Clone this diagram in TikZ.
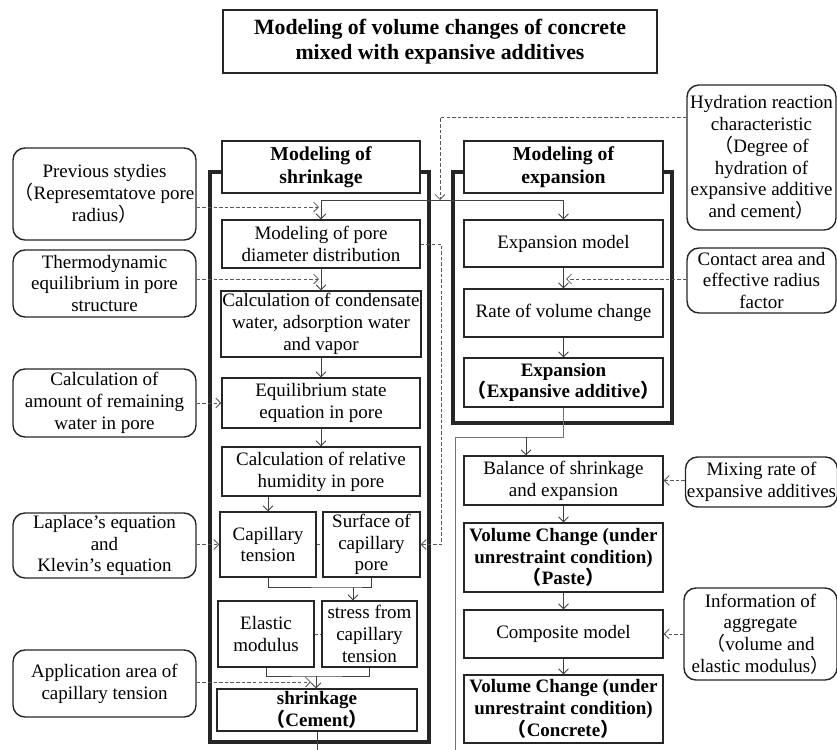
\documentclass[tikz,border=0pt]{standalone}
\usepackage{fontspec}
\setmainfont{Liberation Serif}
\newfontfamily\cjk{Noto Sans CJK JP}
\usepackage{tikz}
\usetikzlibrary{arrows.meta}
\newcommand{\bodyfont}{\fontsize{13.5}{15.5}\selectfont}
\newcommand{\lp}{{\cjk （}}
\newcommand{\rp}{{\cjk ）}}

\begin{document}
\begin{tikzpicture}[x=0.025cm, y=-0.025cm]
    \tikzstyle{proc} = [rectangle, draw=black!85, line width=1pt, minimum width=4.95cm, align=center, inner xsep=1pt, inner ysep=1pt, font=\bodyfont]
    \tikzstyle{bproc} = [proc, font=\bodyfont\bfseries]
    \tikzstyle{headbox} = [proc, fill=white, minimum height=1.3cm, font=\fontsize{14}{16}\selectfont\bfseries]
    \tikzstyle{boxframe} = [rectangle, draw=black!85, line width=2.3pt, minimum width=5.475cm]
    \tikzstyle{src} = [rectangle, rounded corners=0.3cm, draw=black!85, line width=1pt, align=center, inner xsep=1pt, inner ysep=1pt, font=\bodyfont]
    \tikzstyle{conn} = [draw=black!75, line width=0.6pt, -{Straight Barb[length=3.5pt, width=7pt]}]
    \tikzstyle{link} = [draw=black!75, line width=0.6pt]
    \tikzstyle{dashline} = [draw=black!65, line width=0.6pt, dash pattern=on 2.5pt off 1.5pt, -{Straight Barb[length=3.5pt, width=7pt]}]

    \useasboundingbox (0,0) rectangle (837,750);

    \node (title) [proc, minimum width=10.85cm, minimum height=1.575cm, font=\fontsize{15.5}{18}\selectfont\bfseries] at (440,41.5) {Modeling of volume changes of concrete\\mixed with expansive additives};

    % frames and headings
    \node (shrFrame) [boxframe, minimum height=14.25cm] at (319.5,457) {};
    \node (expFrame) [boxframe, minimum height=6.275cm] at (562.5,297.5) {};
    \node (shrHead) [headbox] at (321,167) {Modeling of\\shrinkage};
    \node (expHead) [headbox, minimum width=4.975cm] at (563.5,167) {Modeling of\\expansion};

    % shrinkage side
    \node (pore) [proc, minimum height=1.2cm] at (321,244) {Modeling of pore\\diameter distribution};
    \node (cond) [proc, minimum height=1.65cm] at (321,324) {Calculation of condensate\\water, adsorption water\\and vapor};
    \node (equil) [proc, minimum height=1.25cm] at (321,403) {Equilibrium state\\equation in pore};
    \node (humid) [proc, minimum height=1.225cm] at (321,471.5) {Calculation of relative\\humidity in pore};
    \node (capT) [proc, minimum width=2.4cm, minimum height=1.625cm] at (268,544.5) {Capillary\\tension};
    \node (surf) [proc, minimum width=2.425cm, minimum height=1.625cm] at (371.5,544.5) {Surface of\\capillary\\pore};
    \node (elast) [proc, minimum width=2.4cm, minimum height=1.65cm] at (266,634) {Elastic\\modulus};
    \node (stress) [proc, minimum width=2.375cm, minimum height=1.65cm] at (369.5,634) {stress from\\capillary\\tension};
    \node (cement) [bproc, minimum width=5cm, minimum height=1.05cm] at (317,710) {shrinkage\\\lp Cement\rp};

    % inputs on the left
    \node (prev) [src, minimum width=4.575cm, minimum height=2.3cm] at (104.5,194) {Previous stydies\\\lp Represemtatove pore\\radius\rp};
    \node (thermo) [src, minimum width=4.575cm, minimum height=1.675cm] at (104.5,283.5) {Thermodynamic\\equilibrium in pore\\structure};
    \node (amount) [src, minimum width=4.575cm, minimum height=1.7cm] at (104.5,403) {Calculation of\\amount of remaining\\water in pore};
    \node (laplace) [src, minimum width=4.575cm, minimum height=1.625cm] at (104.5,545.5) {Laplace’s equation\\and\\Klevin’s equation};
    \node (appl) [src, minimum width=4.575cm, minimum height=1.675cm] at (104.5,683.5) {Application area of\\capillary tension};

    % expansion side
    \node (expModel) [proc, minimum width=4.975cm, minimum height=1.175cm] at (563.5,243.5) {Expansion model};
    \node (rate) [proc, minimum width=4.975cm, minimum height=1.2cm] at (563.5,313) {Rate of volume change};
    \node (expan) [bproc, minimum width=4.975cm, minimum height=1.225cm] at (563.5,382.5) {Expansion\\\lp Expansive additive\rp};
    \node (balance) [proc, minimum width=4.975cm, minimum height=1.225cm] at (563.5,480.5) {Balance of shrinkage\\and expansion};
    \node (paste) [bproc, minimum width=4.975cm, minimum height=1.725cm] at (563.5,557.5) {Volume Change (under\\unrestraint condition)\\\lp Paste\rp};
    \node (compo) [proc, minimum width=4.975cm, minimum height=1.2cm] at (563.5,634) {Composite model};
    \node (concr) [bproc, minimum width=4.975cm, minimum height=1.7cm] at (563.5,709) {Volume Change (under\\unrestraint condition)\\\lp Concrete\rp};

    % inputs on the right
    \node (hydr) [src, minimum width=3.725cm, minimum height=3.625cm] at (761.5,157.5) {Hydration reaction\\characteristic\\\lp Degree of\\hydration of\\expansive additive\\and cement\rp};
    \node (contact) [src, minimum width=3.725cm, minimum height=1.625cm] at (761.5,280.5) {Contact area and\\effective radius\\factor};
    \node (mixing) [src, minimum width=3.725cm, minimum height=1.25cm] at (761.5,482) {Mixing rate of\\expansive additives};
    \node (aggr) [src, minimum width=3.825cm, minimum height=2.3cm] at (760.5,634) {Information of\\aggregate\\\lp volume and\\elastic modulus\rp};

    % helper points
    \coordinate (split) at (440,200);
    \coordinate (prevIn) at (319,207);
    \coordinate (thermIn) at (319,279);
    \coordinate (applIn) at (311,682);
    \coordinate (m1) at (353,587);
    \coordinate (m2) at (316,676);
    \coordinate (shrOut) at (316,750);
    \coordinate (contIn) at (566,279);
    \coordinate (joinA) at (526,437);
    \coordinate (joinL) at (455,437);
    \coordinate (joinEnd) at (455,750);

    % shrinkage connectors
    \draw [conn] (split) -| (pore.north);
    \draw [conn] (split) -| (expModel.north);
    \draw [conn] (pore) -- (cond);
    \draw [conn] (cond) -- (equil);
    \draw [conn] (equil) -- (humid);
    \draw [conn] (humid.south -| capT.north) -- (capT.north);
    \draw [link] (capT.south) |- (m1) -| (surf.south);
    \draw [conn] (m1) -- (m1 |- stress.north);
    \draw [link] (elast.south) |- (m2) -| (stress.south);
    \draw [conn] (m2) -- (m2 |- cement.north);
    \draw [link] (cement.south) -- (cement.south |- shrOut);
    \draw [dashline, -] (capT.east) -- (surf.west);
    \draw [dashline, -] (elast.east) -- (stress.west);

    % dashed inputs
    \draw [dashline] (hydr.north west) ++(0,33) -| (split);
    \draw [dashline] (prev.east |- prevIn) -- (prevIn);
    \draw [dashline] (thermo.east |- thermIn) -- (thermIn);
    \draw [dashline] (amount) -- (equil);
    \draw [dashline] (laplace.east |- capT.west) -- (capT.west);
    \draw [dashline] (pore.east) -- ++(21,0) |- (surf.east);
    \draw [dashline] (appl.east |- applIn) -- (applIn);

    % expansion connectors
    \draw [conn] (expModel) -- (rate);
    \draw [dashline] (contact.west |- contIn) -- (contIn);
    \draw [conn] (rate) -- (expan);
    \draw [link, draw=black!55] (expan.south) |- (joinL) -- (joinEnd);
    \draw [conn] (joinA) -- (joinA |- balance.north);
    \draw [dashline] (mixing.west |- balance.east) -- (balance.east);
    \draw [conn] (balance) -- (paste);
    \draw [conn] (paste) -- (compo);
    \draw [dashline] (aggr.west |- compo.east) -- (compo.east);
    \draw [conn] (compo) -- (concr);
\end{tikzpicture}
\end{document}
